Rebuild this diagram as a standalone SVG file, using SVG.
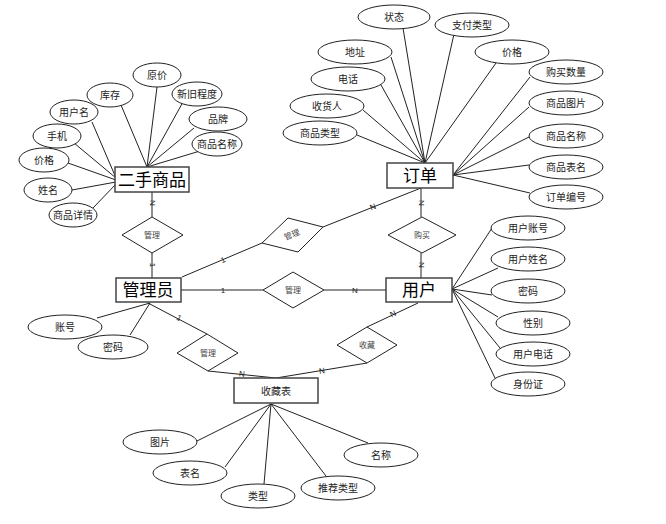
<svg xmlns="http://www.w3.org/2000/svg" width="666" height="524" viewBox="0 0 666 524">
<style>
.e{fill:#fff;stroke:#222;stroke-width:1}
.b{fill:#fff;stroke:#444;stroke-width:1.5}
.d{fill:#fff;stroke:#222;stroke-width:1}
.t{font-family:"Liberation Sans","Noto Sans CJK SC",sans-serif;font-size:10px;fill:#222;text-anchor:middle;dominant-baseline:central}
.bt{font-family:"Liberation Sans","Noto Sans CJK SC",sans-serif;font-size:17px;fill:#000;text-anchor:middle;dominant-baseline:central}
.rt{font-family:"Liberation Sans","Noto Sans CJK SC",sans-serif;font-size:8px;fill:#444;text-anchor:middle;dominant-baseline:central}
.m{font-family:"Liberation Sans",sans-serif;font-size:8px;fill:#222;text-anchor:middle;dominant-baseline:central}
.l{stroke:#222;stroke-width:1;fill:none}
</style>
<rect width="666" height="524" fill="#fff"/>
<g id="connectors">
<!-- 二手商品 attributes -->
<line class="l" x1="147" y1="167" x2="157" y2="87"/>
<line class="l" x1="147" y1="167" x2="121" y2="105"/>
<line class="l" x1="147" y1="167" x2="183" y2="102"/>
<line class="l" x1="147" y1="167" x2="194" y2="128"/>
<line class="l" x1="147" y1="167" x2="200" y2="151"/>
<line class="l" x1="116" y1="178" x2="92" y2="122"/>
<line class="l" x1="116" y1="178" x2="74" y2="143"/>
<line class="l" x1="116" y1="180" x2="68" y2="163"/>
<line class="l" x1="116" y1="182" x2="72" y2="190"/>
<line class="l" x1="116" y1="184" x2="93" y2="208"/>
<!-- 订单 attributes -->
<line class="l" x1="425" y1="163" x2="403" y2="28"/>
<line class="l" x1="425" y1="163" x2="454" y2="34"/>
<line class="l" x1="425" y1="163" x2="391" y2="57"/>
<line class="l" x1="425" y1="163" x2="496" y2="63"/>
<line class="l" x1="425" y1="163" x2="381" y2="85"/>
<line class="l" x1="425" y1="163" x2="363" y2="110"/>
<line class="l" x1="425" y1="163" x2="357" y2="135"/>
<line class="l" x1="453" y1="175" x2="530" y2="77"/>
<line class="l" x1="453" y1="175" x2="529" y2="107"/>
<line class="l" x1="453" y1="175" x2="529" y2="137"/>
<line class="l" x1="453" y1="175" x2="529" y2="165"/>
<line class="l" x1="453" y1="175" x2="530" y2="193"/>
<!-- 用户 attributes -->
<line class="l" x1="452" y1="289" x2="492" y2="228"/>
<line class="l" x1="452" y1="289" x2="498" y2="268"/>
<line class="l" x1="452" y1="289" x2="492" y2="295"/>
<line class="l" x1="452" y1="289" x2="498" y2="317"/>
<line class="l" x1="452" y1="289" x2="500" y2="348"/>
<line class="l" x1="452" y1="289" x2="495" y2="378"/>
<!-- 管理员 attributes -->
<line class="l" x1="150" y1="303" x2="97" y2="318"/>
<line class="l" x1="150" y1="303" x2="130" y2="335"/>
<!-- 收藏表 attributes -->
<line class="l" x1="271" y1="404" x2="197" y2="441"/>
<line class="l" x1="271" y1="404" x2="225" y2="467"/>
<line class="l" x1="271" y1="404" x2="264" y2="484"/>
<line class="l" x1="271" y1="404" x2="326" y2="476"/>
<line class="l" x1="271" y1="404" x2="368" y2="443"/>
<!-- relationships -->
<line class="l" x1="152" y1="192" x2="152" y2="217"/>
<line class="l" x1="152" y1="253" x2="152" y2="278"/>
<line class="l" x1="181" y1="290" x2="263" y2="290"/>
<line class="l" x1="324" y1="290" x2="386" y2="290"/>
<line class="l" x1="182" y1="277" x2="262" y2="243"/>
<line class="l" x1="323" y1="227" x2="421" y2="188"/>
<line class="l" x1="421" y1="188" x2="421" y2="217"/>
<line class="l" x1="421" y1="253" x2="421" y2="278"/>
<line class="l" x1="148" y1="303" x2="207" y2="334"/>
<line class="l" x1="208" y1="371" x2="276" y2="378"/>
<line class="l" x1="418" y1="303" x2="367" y2="327"/>
<line class="l" x1="367" y1="363" x2="276" y2="378"/>
</g>
<g id="cardinality">
<text class="m" transform="translate(152,203) rotate(90)">N</text>
<text class="m" transform="translate(152,265) rotate(90)">1</text>
<text class="m" x="223" y="290">1</text>
<text class="m" x="355" y="290">N</text>
<text class="m" transform="translate(223,260) rotate(-23)">1</text>
<text class="m" transform="translate(373,207) rotate(-22)">N</text>
<text class="m" transform="translate(421,203) rotate(90)">N</text>
<text class="m" transform="translate(421,265) rotate(90)">N</text>
<text class="m" transform="translate(179,318) rotate(28)">1</text>
<text class="m" transform="translate(242,374) rotate(6)">N</text>
<text class="m" transform="translate(393,314) rotate(-25)">N</text>
<text class="m" transform="translate(322,371) rotate(-9)">N</text>
</g>
<g id="ershou"><rect class="b" x="115" y="167" width="74" height="25"/><text class="bt" x="152" y="180">二手商品</text></g>
<g id="dingdan"><rect class="b" x="387" y="163" width="66" height="25"/><text class="bt" x="420" y="176">订单</text></g>
<g id="guanliyuan"><rect class="b" x="116" y="278" width="65" height="24"/><text class="bt" x="148" y="290">管理员</text></g>
<g id="yonghu"><rect class="b" x="386" y="278" width="66" height="24"/><text class="bt" x="419" y="290">用户</text></g>
<g id="shoucangbiao"><rect class="b" x="234" y="378" width="84" height="25"/><text class="t" x="276" y="391">收藏表</text></g>
<g id="r-guanli1"><polygon class="d" points="152,217 183,235 152,253 122,235"/><text class="rt" x="152" y="235">管理</text></g>
<g id="r-guanli2"><polygon class="d" points="288,218 323,227 298,252 262,243"/><text class="rt" transform="translate(292,235) rotate(-22)">管理</text></g>
<g id="r-goumai"><polygon class="d" points="422,217 456,235 422,253 388,235"/><text class="rt" x="422" y="235">购买</text></g>
<g id="r-guanli3"><polygon class="d" points="293,272 324,290 293,308 263,290"/><text class="rt" x="293" y="290">管理</text></g>
<g id="r-guanli4"><polygon class="d" points="207,334 238,353 208,371 177,353"/><text class="rt" x="208" y="353">管理</text></g>
<g id="r-shoucang"><polygon class="d" points="367,327 397,345 367,363 337,345"/><text class="rt" x="367" y="345">收藏</text></g>
<g id="a-yuanjia"><ellipse class="e" cx="157" cy="75" rx="24" ry="12"/><text class="t" x="157" y="75">原价</text></g>
<g id="a-kucun"><ellipse class="e" cx="110" cy="95" rx="23" ry="12"/><text class="t" x="110" y="95">库存</text></g>
<g id="a-xinjiu"><ellipse class="e" cx="197" cy="94" rx="25" ry="12"/><text class="t" x="197" y="94">新旧程度</text></g>
<g id="a-yonghuming"><ellipse class="e" cx="74" cy="112" rx="24" ry="12"/><text class="t" x="74" y="112">用户名</text></g>
<g id="a-pinpai"><ellipse class="e" cx="218" cy="119" rx="29" ry="12"/><text class="t" x="218" y="119">品牌</text></g>
<g id="a-shouji"><ellipse class="e" cx="57" cy="136" rx="24" ry="12"/><text class="t" x="57" y="136">手机</text></g>
<g id="a-spmc1"><ellipse class="e" cx="217" cy="144" rx="25" ry="12"/><text class="t" x="217" y="144">商品名称</text></g>
<g id="a-jiage1"><ellipse class="e" cx="44" cy="160" rx="25" ry="12"/><text class="t" x="44" y="160">价格</text></g>
<g id="a-xingming"><ellipse class="e" cx="48" cy="190" rx="24" ry="12"/><text class="t" x="48" y="190">姓名</text></g>
<g id="a-spxq"><ellipse class="e" cx="73" cy="215" rx="24" ry="12"/><text class="t" x="73" y="215">商品详情</text></g>
<g id="a-zhuangtai"><ellipse class="e" cx="394" cy="17" rx="36" ry="12"/><text class="t" x="394" y="17">状态</text></g>
<g id="a-zflx"><ellipse class="e" cx="472" cy="25" rx="37" ry="12"/><text class="t" x="472" y="25">支付类型</text></g>
<g id="a-dizhi"><ellipse class="e" cx="355" cy="52" rx="37" ry="12"/><text class="t" x="355" y="52">地址</text></g>
<g id="a-jiage2"><ellipse class="e" cx="512" cy="52" rx="37" ry="12"/><text class="t" x="512" y="52">价格</text></g>
<g id="a-dianhua"><ellipse class="e" cx="348" cy="79" rx="37" ry="12"/><text class="t" x="348" y="79">电话</text></g>
<g id="a-gmsl"><ellipse class="e" cx="566" cy="72" rx="37" ry="12"/><text class="t" x="566" y="72">购买数量</text></g>
<g id="a-shouhuoren"><ellipse class="e" cx="327" cy="106" rx="37" ry="12"/><text class="t" x="327" y="106">收货人</text></g>
<g id="a-sptp"><ellipse class="e" cx="566" cy="103" rx="37" ry="12"/><text class="t" x="566" y="103">商品图片</text></g>
<g id="a-splx"><ellipse class="e" cx="320" cy="133" rx="37" ry="12"/><text class="t" x="320" y="133">商品类型</text></g>
<g id="a-spmc2"><ellipse class="e" cx="566" cy="136" rx="37" ry="12"/><text class="t" x="566" y="136">商品名称</text></g>
<g id="a-spbm"><ellipse class="e" cx="566" cy="167" rx="37" ry="12"/><text class="t" x="566" y="167">商品表名</text></g>
<g id="a-ddbh"><ellipse class="e" cx="566" cy="197" rx="37" ry="12"/><text class="t" x="566" y="197">订单编号</text></g>
<g id="a-yhzh"><ellipse class="e" cx="528" cy="228" rx="37" ry="12"/><text class="t" x="528" y="228">用户账号</text></g>
<g id="a-yhxm"><ellipse class="e" cx="528" cy="259" rx="37" ry="12"/><text class="t" x="528" y="259">用户姓名</text></g>
<g id="a-mima1"><ellipse class="e" cx="528" cy="291" rx="37" ry="12"/><text class="t" x="528" y="291">密码</text></g>
<g id="a-xingbie"><ellipse class="e" cx="533" cy="323" rx="37" ry="12"/><text class="t" x="533" y="323">性别</text></g>
<g id="a-yhdh"><ellipse class="e" cx="533" cy="354" rx="37" ry="12"/><text class="t" x="533" y="354">用户电话</text></g>
<g id="a-sfz"><ellipse class="e" cx="528" cy="384" rx="37" ry="12"/><text class="t" x="528" y="384">身份证</text></g>
<g id="a-zhanghao"><ellipse class="e" cx="65" cy="327" rx="37" ry="12"/><text class="t" x="65" y="327">账号</text></g>
<g id="a-mima2"><ellipse class="e" cx="113" cy="347" rx="35" ry="12"/><text class="t" x="113" y="347">密码</text></g>
<g id="a-tupian"><ellipse class="e" cx="160" cy="442" rx="37" ry="12"/><text class="t" x="160" y="442">图片</text></g>
<g id="a-biaoming"><ellipse class="e" cx="190" cy="473" rx="37" ry="12"/><text class="t" x="190" y="473">表名</text></g>
<g id="a-leixing"><ellipse class="e" cx="258" cy="496" rx="37" ry="12"/><text class="t" x="258" y="496">类型</text></g>
<g id="a-tjlx"><ellipse class="e" cx="338" cy="488" rx="37" ry="12"/><text class="t" x="338" y="488">推荐类型</text></g>
<g id="a-mingcheng"><ellipse class="e" cx="381" cy="455" rx="37" ry="12"/><text class="t" x="381" y="455">名称</text></g>
</svg>
